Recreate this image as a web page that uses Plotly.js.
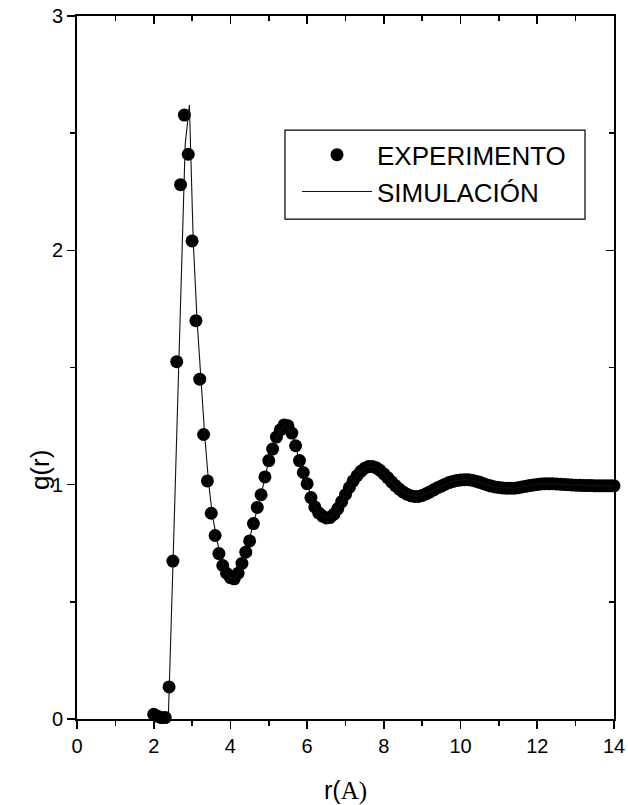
<!DOCTYPE html>
<html>
<head>
<meta charset="utf-8">
<script src="https://cdn.plot.ly/plotly-3.0.1.min.js"></script>
<style>
  html, body { margin: 0; padding: 0; background: #fff; }
  #chart { width: 628px; height: 805px; }
</style>
</head>
<body>
<div id="chart"></div>
<script>
// Experimental radial distribution function g(r)
const expR = [
  2.0, 2.1, 2.2, 2.3, 2.4, 2.5, 2.6, 2.7, 2.8, 2.9,
  3.0, 3.1, 3.2, 3.3, 3.4, 3.5, 3.6, 3.7, 3.8, 3.9,
  4.0, 4.1, 4.2, 4.3, 4.4, 4.5, 4.6, 4.7, 4.8, 4.9,
  5.0, 5.1, 5.2, 5.3, 5.4, 5.5, 5.6, 5.7, 5.8, 5.9,
  6.0, 6.1, 6.2, 6.3, 6.4, 6.5, 6.6, 6.7, 6.8, 6.9,
  7.0, 7.1, 7.2, 7.3, 7.4, 7.5, 7.6, 7.7, 7.8, 7.9,
  8.0, 8.1, 8.2, 8.3, 8.4, 8.5, 8.6, 8.7, 8.8, 8.9,
  9.0, 9.1, 9.2, 9.3, 9.4, 9.5, 9.6, 9.7, 9.8, 9.9,
  10.0, 10.1, 10.2, 10.3, 10.4, 10.5, 10.6, 10.7, 10.8, 10.9,
  11.0, 11.1, 11.2, 11.3, 11.4, 11.5, 11.6, 11.7, 11.8, 11.9,
  12.0, 12.1, 12.2, 12.3, 12.4, 12.5, 12.6, 12.7, 12.8, 12.9,
  13.0, 13.1, 13.2, 13.3, 13.4, 13.5, 13.6, 13.7, 13.8, 13.9,
  14.0
];
const expG = [
  0.02, 0.012, 0.006, 0.006, 0.137, 0.674, 1.525, 2.28, 2.577, 2.41,
  2.04, 1.70, 1.45, 1.214, 1.016, 0.878, 0.783, 0.706, 0.655, 0.622,
  0.603, 0.598, 0.622, 0.664, 0.712, 0.760, 0.834, 0.903, 0.957, 1.033,
  1.103, 1.152, 1.203, 1.234, 1.255, 1.251, 1.220, 1.166, 1.103, 1.052,
  1.004, 0.945, 0.905, 0.880, 0.866, 0.858, 0.860, 0.874, 0.898, 0.928,
  0.958, 0.988, 1.016, 1.038, 1.057, 1.070, 1.077, 1.078, 1.072, 1.061,
  1.046, 1.030, 1.012, 0.996, 0.981, 0.969, 0.959, 0.953, 0.950, 0.950,
  0.954, 0.961, 0.969, 0.978, 0.987, 0.994, 1.002, 1.009, 1.014, 1.018,
  1.020, 1.021, 1.021, 1.019, 1.015, 1.010, 1.004, 0.999, 0.994, 0.990,
  0.988, 0.986, 0.985, 0.985, 0.985, 0.987, 0.990, 0.993, 0.996, 0.999,
  1.001, 1.003, 1.004, 1.004, 1.004, 1.003, 1.002, 1.001, 1.000, 0.999,
  0.998, 0.997, 0.996, 0.996, 0.996, 0.995, 0.995, 0.995, 0.995, 0.995,
  0.995
];

// Simulated g(r)
const simR = [
  2.30, 2.38, 2.50, 2.60, 2.70, 2.82, 2.93, 3.03, 3.13, 3.23,
  3.33, 3.43, 3.53, 3.63, 3.73, 3.83, 3.93, 4.03, 4.13, 4.23,
  4.4, 4.6, 4.8, 5.0, 5.2, 5.4, 5.6, 5.8, 6.0, 6.2,
  6.4, 6.6, 6.8, 7.0, 7.2, 7.4, 7.6, 7.8, 8.0, 8.2,
  8.4, 8.6, 8.8, 9.0, 9.2, 9.4, 9.6, 9.8, 10.0, 10.2,
  10.4, 10.6, 10.8, 11.0, 11.2, 11.4, 11.6, 11.8, 12.0, 12.2,
  12.4, 12.6, 12.8, 13.0, 13.2, 13.4, 13.6, 13.8, 14.0
];
const simG = [
  0.0, 0.0, 0.65, 1.20, 1.78, 2.45, 2.62, 2.04, 1.70, 1.45,
  1.21, 1.01, 0.87, 0.78, 0.70, 0.65, 0.615, 0.60, 0.60, 0.63,
  0.712, 0.834, 0.957, 1.103, 1.203, 1.255, 1.220, 1.103, 1.004, 0.905,
  0.866, 0.860, 0.898, 0.958, 1.016, 1.057, 1.077, 1.072, 1.046, 1.012,
  0.981, 0.959, 0.950, 0.954, 0.969, 0.987, 1.002, 1.014, 1.020, 1.021,
  1.015, 1.004, 0.994, 0.988, 0.985, 0.985, 0.990, 0.996, 1.001, 1.004,
  1.004, 1.002, 1.000, 0.998, 0.996, 0.996, 0.995, 0.995, 0.995
];

const xTicks = [0, 2, 4, 6, 8, 10, 12, 14];
const yTicks = [0, 1, 2, 3];
const xRange = [0, 14];
const yRange = [0, 3];

const sans = 'Liberation Sans, Arial, Helvetica, sans-serif';
const serif = "'Liberation Serif', 'Times New Roman', serif";

const traces = [
  {
    x: expR, y: expG,
    name: 'EXPERIMENTO',
    type: 'scatter', mode: 'markers',
    marker: { color: '#000', size: 13, line: { width: 0 } },
    cliponaxis: false
  },
  {
    x: simR, y: simG,
    name: 'SIMULACIÓN',
    type: 'scatter', mode: 'lines',
    line: { color: '#111', width: 1.1 },
    cliponaxis: false
  },
  // empty trace that brings up the top/right tick axes
  {
    x: [null], y: [null], xaxis: 'x2', yaxis: 'y2',
    type: 'scatter', mode: 'markers', showlegend: false, hoverinfo: 'skip'
  }
];

const tickStyle = { tickcolor: '#000', tickwidth: 1.6 };

const layout = {
  width: 628, height: 805,
  margin: { l: 77, r: 14, t: 16, b: 86 },
  paper_bgcolor: '#fff', plot_bgcolor: '#fff',
  showlegend: true,
  legend: {
    x: 0.4097, y: 0.836, xanchor: 'left', yanchor: 'top',
    bgcolor: 'rgba(0,0,0,0)', borderwidth: 0,
    font: { family: sans, size: 26, color: '#000' },
    itemwidth: 70, itemsizing: 'trace',
    tracegroupgap: 0
  },
  xaxis: Object.assign({
    range: xRange, tickvals: xTicks, ticks: 'outside', ticklen: 8,
    showgrid: false, zeroline: false,
    showline: true, linecolor: '#000', linewidth: 2, mirror: true,
    tickfont: { family: sans, size: 20, color: '#000' },
    minor: Object.assign({ dtick: 1, ticks: 'outside', ticklen: 5 }, tickStyle)
  }, tickStyle),
  yaxis: Object.assign({
    range: yRange, tickvals: yTicks, ticks: 'outside', ticklen: 8,
    showgrid: false, zeroline: false,
    showline: true, linecolor: '#000', linewidth: 2, mirror: true,
    tickfont: { family: sans, size: 20, color: '#000' },
    minor: Object.assign({ dtick: 0.5, ticks: 'outside', ticklen: 5 }, tickStyle)
  }, tickStyle),
  xaxis2: Object.assign({
    overlaying: 'x', side: 'top', anchor: 'y2',
    range: xRange, tickvals: xTicks, ticks: 'inside', ticklen: 8,
    showticklabels: false, showgrid: false, zeroline: false, showline: false,
    minor: Object.assign({ dtick: 1, ticks: 'inside', ticklen: 5 }, tickStyle)
  }, tickStyle),
  yaxis2: Object.assign({
    overlaying: 'y', side: 'right', anchor: 'x2',
    range: yRange, tickvals: yTicks, ticks: 'inside', ticklen: 8,
    showticklabels: false, showgrid: false, zeroline: false, showline: false,
    minor: Object.assign({ dtick: 0.5, ticks: 'inside', ticklen: 5 }, tickStyle)
  }, tickStyle),
  shapes: [
    {
      type: 'rect', xref: 'paper', yref: 'paper',
      x0: 0.3873, x1: 0.946, y0: 0.7112, y1: 0.8378,
      line: { color: '#000', width: 1.2 }, fillcolor: 'rgba(0,0,0,0)',
      layer: 'above'
    }
  ],
  annotations: [
    {
      text: 'g(r)', xref: 'paper', yref: 'paper',
      x: -0.069, y: 0.354, xanchor: 'center', yanchor: 'middle',
      textangle: -90, showarrow: false,
      font: { family: sans, size: 26, color: '#000' }
    },
    {
      text: 'r(<span style="font-family:' + serif + '">A)</span>',
      xref: 'paper', yref: 'paper',
      x: 0.5, y: -0.101, xanchor: 'center', yanchor: 'middle',
      showarrow: false,
      font: { family: sans, size: 25, color: '#000' }
    }
  ]
};

Plotly.newPlot('chart', traces, layout, { displayModeBar: false, staticPlot: true });
</script>
</body>
</html>
